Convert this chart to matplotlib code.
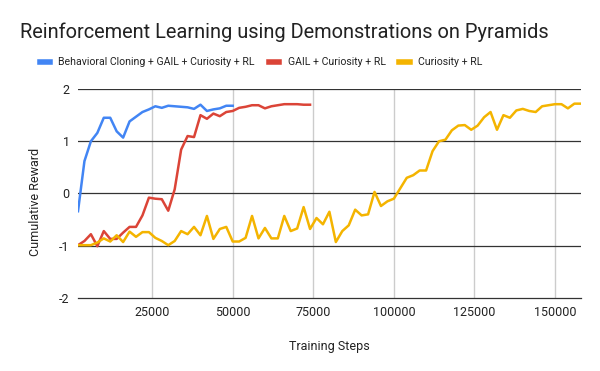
import matplotlib.pyplot as plt
import numpy as np

plt.rcParams['font.family'] = ['Roboto', 'DejaVu Sans']

# training steps (every 2000)
steps_bc = np.arange(2000, 50001, 2000)
steps_gail = np.arange(2000, 74001, 2000)
steps_rl = np.arange(2000, 158001, 2000)

bc_gail_cur_rl = [-0.34, 0.62, 1.0, 1.16, 1.45, 1.45, 1.19, 1.07, 1.38, 1.47,
                  1.56, 1.61, 1.67, 1.64, 1.68, 1.67, 1.66, 1.65, 1.62, 1.70,
                  1.58, 1.61, 1.63, 1.68, 1.68]

gail_cur_rl = [-0.99, -0.91, -0.78, -1.01, -0.72, -0.87, -0.87, -0.75, -0.64, -0.64,
               -0.42, -0.08, -0.10, -0.11, -0.33, 0.08, 0.84, 1.10, 1.08, 1.50,
               1.43, 1.53, 1.48, 1.56, 1.58, 1.64, 1.66, 1.69, 1.69, 1.63,
               1.67, 1.69, 1.71, 1.71, 1.71, 1.70, 1.70]

cur_rl = [-0.99, -0.99, -0.99, -0.94, -0.86, -0.92, -0.80, -0.93, -0.73, -0.83,
          -0.74, -0.74, -0.85, -0.91, -0.99, -0.91, -0.72, -0.78, -0.64, -0.80,
          -0.43, -0.87, -0.68, -0.64, -0.92, -0.92, -0.85, -0.43, -0.86, -0.66,
          -0.86, -0.86, -0.43, -0.72, -0.67, -0.26, -0.68, -0.47, -0.59, -0.35,
          -0.93, -0.72, -0.61, -0.31, -0.42, -0.40, 0.03, -0.24, -0.15, -0.10,
          0.10, 0.30, 0.35, 0.44, 0.44, 0.81, 1.0, 1.03, 1.21, 1.30,
          1.31, 1.22, 1.30, 1.46, 1.56, 1.22, 1.50, 1.45, 1.59, 1.62,
          1.58, 1.56, 1.67, 1.69, 1.71, 1.71, 1.63, 1.72, 1.72]

fig = plt.figure(figsize=(6, 3.71), dpi=100)
ax = fig.add_axes([0.13, 0.197, 0.838, 0.563])

ax.plot(steps_bc, bc_gail_cur_rl, color='#4285F4', lw=1.8,
        label='Behavioral Cloning + GAIL + Curiosity + RL')
ax.plot(steps_gail, gail_cur_rl, color='#DB4437', lw=1.8,
        label='GAIL + Curiosity + RL')
ax.plot(steps_rl, cur_rl, color='#F4B400', lw=1.8, label='Curiosity + RL')

ax.set_xlim(2000, 158000)
ax.set_ylim(-2, 2)
ax.set_xticks([25000, 50000, 75000, 100000, 125000, 150000])
ax.set_yticks([-2, -1, 0, 1, 2])
ax.set_yticklabels(['-2', '-1', '0', '1', '2'])

for x in [25000, 50000, 75000, 100000, 125000, 150000]:
    ax.axvline(x, color='#cccccc', lw=1, zorder=0)
for y in [-1, 0, 1, 2]:
    ax.axhline(y, color='#333333', lw=0.9, zorder=0.5)

for s in ['top', 'right', 'left']:
    ax.spines[s].set_visible(False)
ax.spines['bottom'].set_color('#333333')
ax.spines['bottom'].set_linewidth(0.9)
ax.tick_params(length=0, labelsize=9, colors='#222222', pad=6)

ax.set_xlabel('Training Steps', fontsize=9, color='#222222', labelpad=15)
ax.set_ylabel('Cumulative Reward', fontsize=9, color='#222222')
ax.yaxis.set_label_coords(-0.072, 0.46)

fig.text(0.033, 0.914, 'Reinforcement Learning using Demonstrations on Pyramids',
         fontsize=14.4, color='#222222', va='center')

fig.legend(loc='center', bbox_to_anchor=(0.435, 0.832), ncol=3, frameon=False,
           handlelength=1.0, handletextpad=0.8, columnspacing=1.3,
           prop={'size': 7.55})
leg = fig.legends[0]
for h in leg.legend_handles:
    h.set_linewidth(4)
for t in leg.get_texts():
    t.set_color('#222222')

fig.savefig('out.png', dpi=100)
